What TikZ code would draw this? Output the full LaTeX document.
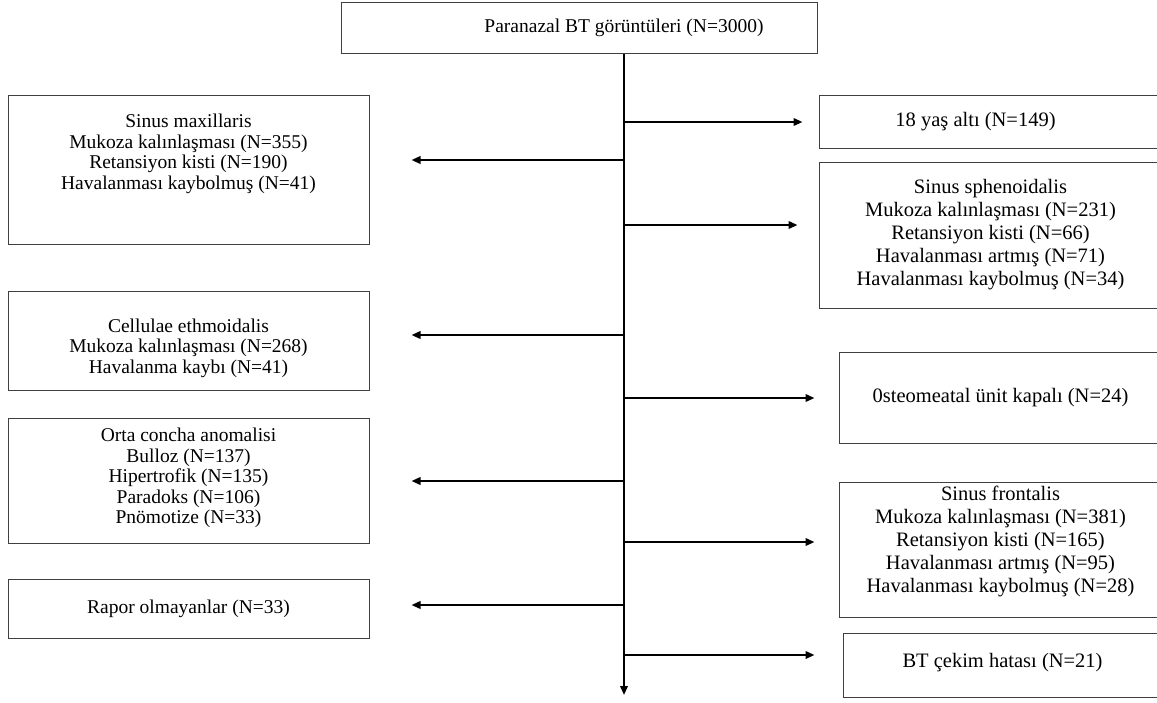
\documentclass[tikz,border=0pt]{standalone}
\usepackage{fontspec}
\setmainfont{Liberation Serif}
\usetikzlibrary{arrows.meta,positioning}
\definecolor{frame}{HTML}{404040}
\tikzset{
  lbox/.style={draw=frame,line width=1pt,align=center,inner sep=0pt,
    minimum width=361pt,font=\fontsize{19.5}{20.5}\selectfont},
  rbox/.style={draw=frame,line width=1pt,align=center,inner sep=0pt,
    font=\fontsize{20.5}{23}\selectfont},
  flow/.style={line width=2pt,-{Triangle[length=9pt,width=7.5pt]}}
}

\begin{document}
\begin{tikzpicture}[x=1pt,y=-1pt]
 \useasboundingbox (0,0) rectangle (1157,702);
 \node[rbox,minimum width=476pt,minimum height=51pt,font=\fontsize{19.5}{22}\selectfont] (top) at (579,27.5)
   {\hspace*{90pt}Paranazal BT görüntüleri (N=3000)};

 \node[lbox,minimum height=149pt] (maxbox) at (188.5,169.5)
   {Sinus maxillaris\\Mukoza kalınlaşması (N=355)\\Retansiyon kisti (N=190)\\Havalanması kaybolmuş (N=41)\rule[-36pt]{0pt}{0pt}};
 \node[lbox,minimum height=99pt] (ethbox) at (188.5,340.5)
   {\rule{0pt}{29pt}Cellulae ethmoidalis\\Mukoza kalınlaşması (N=268)\\Havalanma kaybı (N=41)};
 \node[lbox,minimum height=125pt] (conbox) at (188.5,480.5)
   {Orta concha anomalisi\\Bulloz (N=137)\\Hipertrofik (N=135)\\Paradoks (N=106)\\Pnömotize (N=33)\rule[-9pt]{0pt}{0pt}};
 \node[lbox,minimum height=59pt] (rapbox) at (188.5,608.5) {Rapor olmayanlar (N=33)};

 \node[rbox,minimum width=343pt,minimum height=53pt] (agebox) at (990.5,121.5)
   {18 yaş altı (N=149)\hspace*{30pt}};
 \node[rbox,minimum width=343pt,minimum height=146pt] (sphbox) at (990.5,235)
   {Sinus sphenoidalis\\Mukoza kalınlaşması (N=231)\\Retansiyon kisti (N=66)\\Havalanması artmış (N=71)\\Havalanması kaybolmuş (N=34)};
 \node[rbox,minimum width=323pt,minimum height=91pt] (ostbox) at (1000.5,397.5)
   {0steomeatal ünit kapalı (N=24)};
 \node[rbox,minimum width=323pt,minimum height=135pt] (frobox) at (1000.5,549.5)
   {Sinus frontalis\\Mukoza kalınlaşması (N=381)\\Retansiyon kisti (N=165)\\Havalanması artmış (N=95)\\Havalanması kaybolmuş (N=28)\rule[-20pt]{0pt}{0pt}};
 \node[rbox,minimum width=319pt,minimum height=64pt] (errbox) at (1002.5,665)
   {BT çekim hatası (N=21)\rule[-10pt]{0pt}{0pt}};

 \coordinate (t0) at ([xshift=45pt]top.south);
 \coordinate (tend) at (624,695);
 \coordinate (l1) at (624,160);
 \coordinate (l2) at (624,335);
 \coordinate (l3) at (624,481);
 \coordinate (l4) at (624,605);
 \coordinate (r1) at (624,122);
 \coordinate (r2) at (624,225);
 \coordinate (r3) at (624,398);
 \coordinate (r4) at (624,542);
 \coordinate (r5) at (624,655);

 \draw[flow] (t0) -- (tend);
 \draw[flow,shorten >=42pt] (l1) -- (l1 -| maxbox.east);
 \draw[flow,shorten >=42pt] (l2) -- (l2 -| ethbox.east);
 \draw[flow,shorten >=42pt] (l3) -- (l3 -| conbox.east);
 \draw[flow,shorten >=42pt] (l4) -- (l4 -| rapbox.east);
 \draw[flow,shorten >=16pt] (r1) -- (r1 -| agebox.west);
 \draw[flow,shorten >=21pt] (r2) -- (r2 -| sphbox.west);
 \draw[flow,shorten >=24pt] (r3) -- (r3 -| ostbox.west);
 \draw[flow,shorten >=24pt] (r4) -- (r4 -| frobox.west);
 \draw[flow,shorten >=28pt] (r5) -- (r5 -| errbox.west);
\end{tikzpicture}
\end{document}
